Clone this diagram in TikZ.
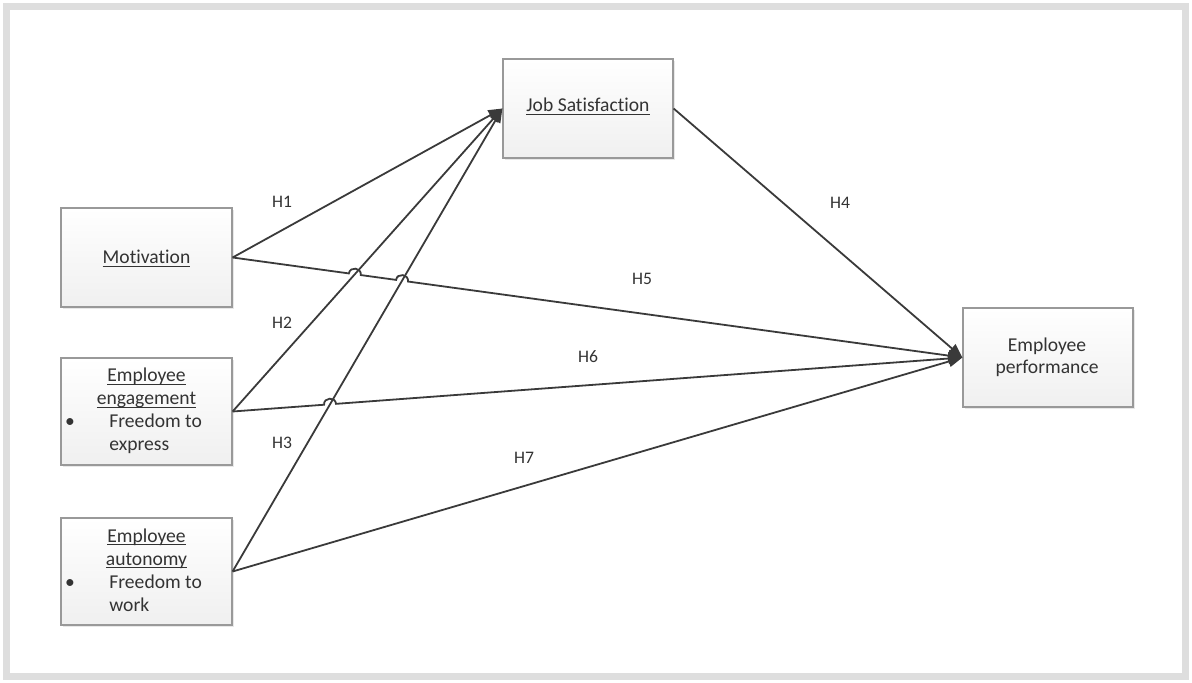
\documentclass[tikz,border=0pt]{standalone}
\usepackage{fontspec}
\setmainfont{Carlito}[Ligatures={NoCommon}]
\usetikzlibrary{arrows.meta,calc,intersections,shadows}
\definecolor{ink}{HTML}{333333}
\definecolor{edge}{HTML}{3A3A3A}
\definecolor{boxline}{HTML}{999999}
\definecolor{framecol}{HTML}{DEDEDE}
\newcommand{\myul}[1]{\underline{\smash{#1}}}
\begin{document}
\begin{tikzpicture}[x=0.5pt,y=-0.5pt,
  box/.style={draw=boxline, line width=0.6pt, top color=white, bottom color=gray!12,
    drop shadow={shadow xshift=1pt, shadow yshift=-1pt, opacity=0.18}, inner sep=0pt},
  txt/.style={text=ink, font=\fontsize{9.8}{11.5}\selectfont, inner sep=0pt, anchor=base},
  ltxt/.style={txt, anchor=base west},
  hlab/.style={text=ink, font=\fontsize{8.8}{10}\selectfont, inner sep=0pt},
  conn/.style={draw=edge, line width=0.9pt, -{Triangle[length=7pt,width=5.5pt]}},
  hop/.style={bend left=90, looseness=1.6}]
\useasboundingbox (0,0) rectangle (1192,683);
\draw[framecol, line width=3.5pt] (6.5,6.5) rectangle (1185.5,676.5);

% boxes
\node[box, minimum width=85.5pt, minimum height=49.5pt] (mot) at (146.5,257.5) {};
\node[box, minimum width=85.5pt, minimum height=53.5pt] (eng) at (146.5,411.5) {};
\node[box, minimum width=85.5pt, minimum height=53.5pt] (aut) at (146.5,571.5) {};
\node[box, minimum width=85pt, minimum height=49.5pt] (js) at (588,108.5) {};
\node[box, minimum width=85pt, minimum height=49.5pt] (ep) at (1048,357.5) {};

% texts
\node[txt] (motT) at (146.5,264) {\myul{Motivation}};
\node[txt] (engT1) at (146.5,382) {\myul{Employee}};
\node[txt] (engT2) at (146.5,405) {\myul{engagement}};
\node[txt] (engB) at (70,428) {\textbullet};
\node[ltxt] (engT3) at (109,428) {Freedom to};
\node[ltxt] (engT4) at (109,451) {express};
\node[txt] (autT1) at (146.5,542) {\myul{Employee}};
\node[txt] (autT2) at (146.5,565) {\myul{autonomy}};
\node[txt] (autB) at (70,588) {\textbullet};
\node[ltxt] (autT3) at (109,588) {Freedom to};
\node[ltxt] (autT4) at (109,611) {work};
\node[txt] (jsT) at (588,112) {\myul{Job Satisfaction}};
\node[txt] (epT1) at (1047,352) {Employee};
\node[txt] (epT2) at (1047,374) {performance};

% crossing points
\path[name path=ej] (eng.east) -- (js.west);
\path[name path=aj] (aut.east) -- (js.west);
\path[name path=mp] (mot.east) -- (ep.west);
\path[name path=gp] (eng.east) -- (ep.west);
\path[name intersections={of=mp and ej, by=xa}];
\path[name intersections={of=mp and aj, by=xb}];
\path[name intersections={of=gp and aj, by=xc}];

% connectors
\draw[conn] (mot.east) -- (js.west);
\draw[conn] (eng.east) -- (js.west);
\draw[conn] (aut.east) -- (js.west);
\draw[conn] (js.east) -- (ep.west);
\draw[conn] (mot.east) -- ($(xa)!3pt!(mot.east)$) to[hop] ($(xa)!3pt!(ep.west)$)
  -- ($(xb)!3pt!(mot.east)$) to[hop] ($(xb)!3pt!(ep.west)$) -- (ep.west);
\draw[conn] (eng.east) -- ($(xc)!3pt!(eng.east)$) to[hop] ($(xc)!3pt!(ep.west)$) -- (ep.west);
\draw[conn] (aut.east) -- (ep.west);

% labels
\node[hlab] (h1) at (282,202) {H1};
\node[hlab] (h2) at (282,323) {H2};
\node[hlab] (h3) at (282,443) {H3};
\node[hlab] (h4) at (840,203) {H4};
\node[hlab] (h5) at (642,279) {H5};
\node[hlab] (h6) at (588,357) {H6};
\node[hlab] (h7) at (524,458) {H7};
\end{tikzpicture}
\end{document}
